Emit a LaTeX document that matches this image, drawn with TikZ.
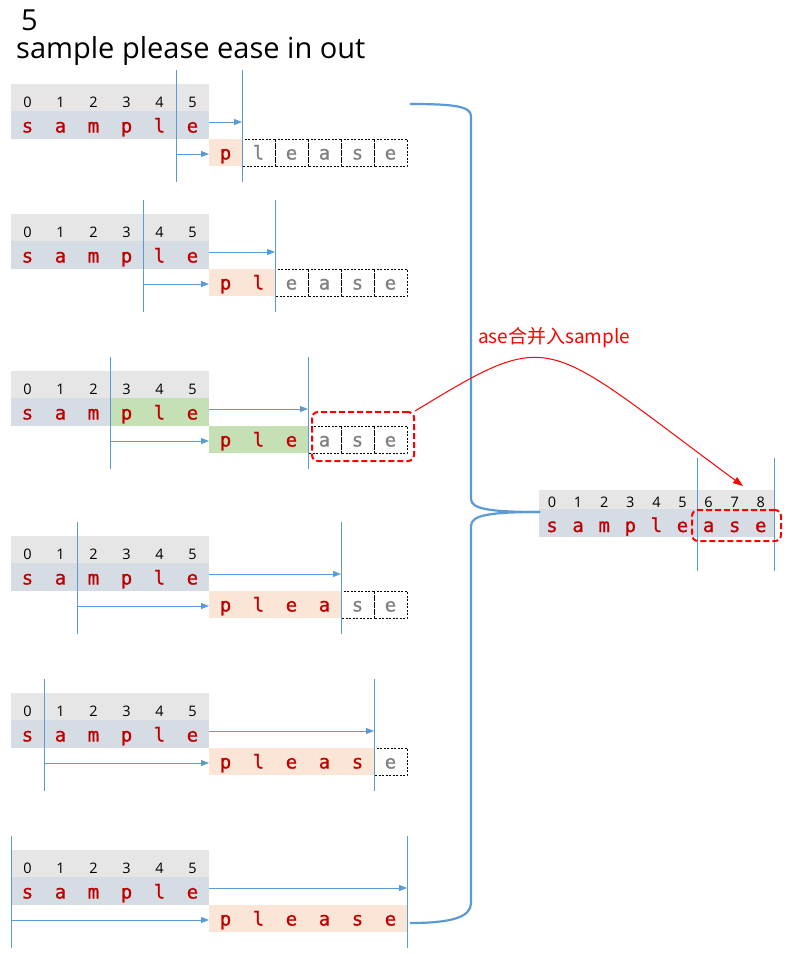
\documentclass[tikz,border=0pt]{standalone}
\usepackage{fontspec}
\setmainfont{Open Sans}
\newfontfamily\monofnt[FakeBold=0.8]{DejaVu Sans Mono}
\newfontfamily\cjkfnt{Noto Sans CJK SC}
\usetikzlibrary{arrows.meta}

\definecolor{idxgray}{HTML}{E7E6E6}
\definecolor{strblue}{HTML}{D6DCE4}
\definecolor{matchpink}{HTML}{FBE5D6}
\definecolor{matchgreen}{HTML}{C5E0B4}
\definecolor{linkblue}{HTML}{5B9BD5}
\definecolor{chred}{HTML}{C00000}
\definecolor{restgray}{HTML}{808080}

\tikzset{
  digit/.style={font=\fontsize{14.5}{14.5}\selectfont, text=black, inner sep=0pt, anchor=base},
  letter/.style={font=\monofnt\fontsize{19}{19}\selectfont, text=chred, inner sep=0pt, anchor=base},
  rest/.style={letter, text=restgray},
  cutline/.style={draw=linkblue, line width=1pt},
  shiftarrow/.style={draw=linkblue, line width=1pt, -{Triangle[length=8pt,width=6pt]}},
  tailcell/.style={draw=black, line width=0.9pt, dash pattern=on 2pt off 1.5pt},
  hlbox/.style={draw=red, line width=2pt, dash pattern=on 6pt off 3pt, rounded corners=6pt, inner sep=0pt},
  brace/.style={draw=linkblue, line width=2.2pt},
  merge/.style={draw=red, line width=1pt, -{Triangle[length=10pt,width=7pt]}},
}

\begin{document}
\begin{tikzpicture}[x=1pt,y=-1pt]
\useasboundingbox (0,0) rectangle (791,954);

% heading
\node[anchor=base west, inner sep=0pt, font=\fontsize{29}{29}\selectfont] (num) at (21,30) {5};
\node[anchor=base west, inner sep=0pt, font=\fontsize{29}{29}\selectfont] (words) at (16,58) {sample please ease in out};

% six alignment steps: centre line y, number of matched characters
\foreach \c/\k [count=\i] in {125/1,255/2,412/3,577/4,734/5,891/6} {
  % bands
  \fill[idxgray] (11,\c-41) rectangle (209,\c-14);
  \fill[strblue] (11,\c-14) rectangle (209,\c+14);
  \fill[matchpink] (209,\c+14) rectangle (209+33*\k,\c+41);
  \ifnum\i=3
    \fill[matchgreen] (110,\c-14) rectangle (209,\c+14);
    \fill[matchgreen] (209,\c+14) rectangle (308,\c+41);
  \fi
  % unmatched tail cells
  \foreach \j in {0,...,5} {
    \ifnum\j<\k\else
      \draw[tailcell] (209+33*\j,\c+14) rectangle (242+33*\j,\c+41);
    \fi
  }
  % indices and characters of "sample"
  \foreach \ch [count=\j from 0] in {s,a,m,p,l,e} {
    \node[digit] (d\i-\j) at (27.5+33*\j,\c-18) {\j};
    \node[letter] (s\i-\j) at (27.5+33*\j,\c+7.5) {\ch};
  }
  % characters of "please"
  \foreach \ch [count=\j from 0] in {p,l,e,a,s,e} {
    \ifnum\j<\k\def\sty{letter}\else\def\sty{rest}\fi
    \node[\sty] (p\i-\j) at (225.5+33*\j,\c+34.5) {\ch};
  }
  % cut lines
  \draw[cutline] (209-33*\k,\c-55) coordinate (lt\i) -- (209-33*\k,\c+57) coordinate (lb\i);
  \draw[cutline] (209+33*\k,\c-55) coordinate (rt\i) -- (209+33*\k,\c+57) coordinate (rb\i);
  % shift arrows
  \coordinate (sEnd\i) at (209,\c-3);
  \coordinate (sCut\i) at (209+33*\k,\c-3);
  \draw[shiftarrow] (sEnd\i) -- (sCut\i);
  \coordinate (pCut\i) at (209-33*\k,\c+29);
  \coordinate (pStart\i) at (209,\c+29);
  \draw[shiftarrow] (pCut\i) -- (pStart\i);
}

% overlap box in step 3
\node[hlbox, minimum width=102pt, minimum height=49pt] (tailbox) at (363,436.5) {};

% merged result
\fill[idxgray] (539,490) rectangle (774,509);
\fill[strblue] (539,509) rectangle (774,537);
\foreach \ch [count=\j from 0] in {s,a,m,p,l,e,a,s,e} {
  \node[digit] (md\j) at (552+26.1*\j,507) {\j};
  \node[letter] (ms\j) at (552+26.1*\j,532) {\ch};
}
\draw[cutline] (697,458) coordinate (mlt) -- (697,571) coordinate (mlb);
\draw[cutline] (774,458) coordinate (mrt) -- (774,571) coordinate (mrb);
\node[hlbox, minimum width=89pt, minimum height=31pt] (mergedTail) at (736.5,525.5) {};

% brace gathering the steps
\coordinate (braceTop) at (410,104);
\coordinate (braceBot) at (410,923);
\coordinate (braceTip) at (540,512);
\draw[brace] (braceTop) .. controls (452,104) and (471,106) .. (471,116) -- (471,499)
  .. controls (471,509) and (490,512) .. (braceTip);
\draw[brace] (braceTip) .. controls (490,512) and (471,515) .. (471,526) -- (471,903)
  .. controls (471,917) and (452,923) .. (braceBot);

% merge arrow and its label
\coordinate (mergeTo) at (743,486);
\draw[merge] (tailbox.north east) .. controls (555,326) and (541,337) .. (mergeTo);
\node[anchor=west, inner sep=0pt, text=red, font=\cjkfnt\fontsize{19}{19}\selectfont] (mergeLabel) at (478,338) {ase合并入sample};
\end{tikzpicture}
\end{document}
